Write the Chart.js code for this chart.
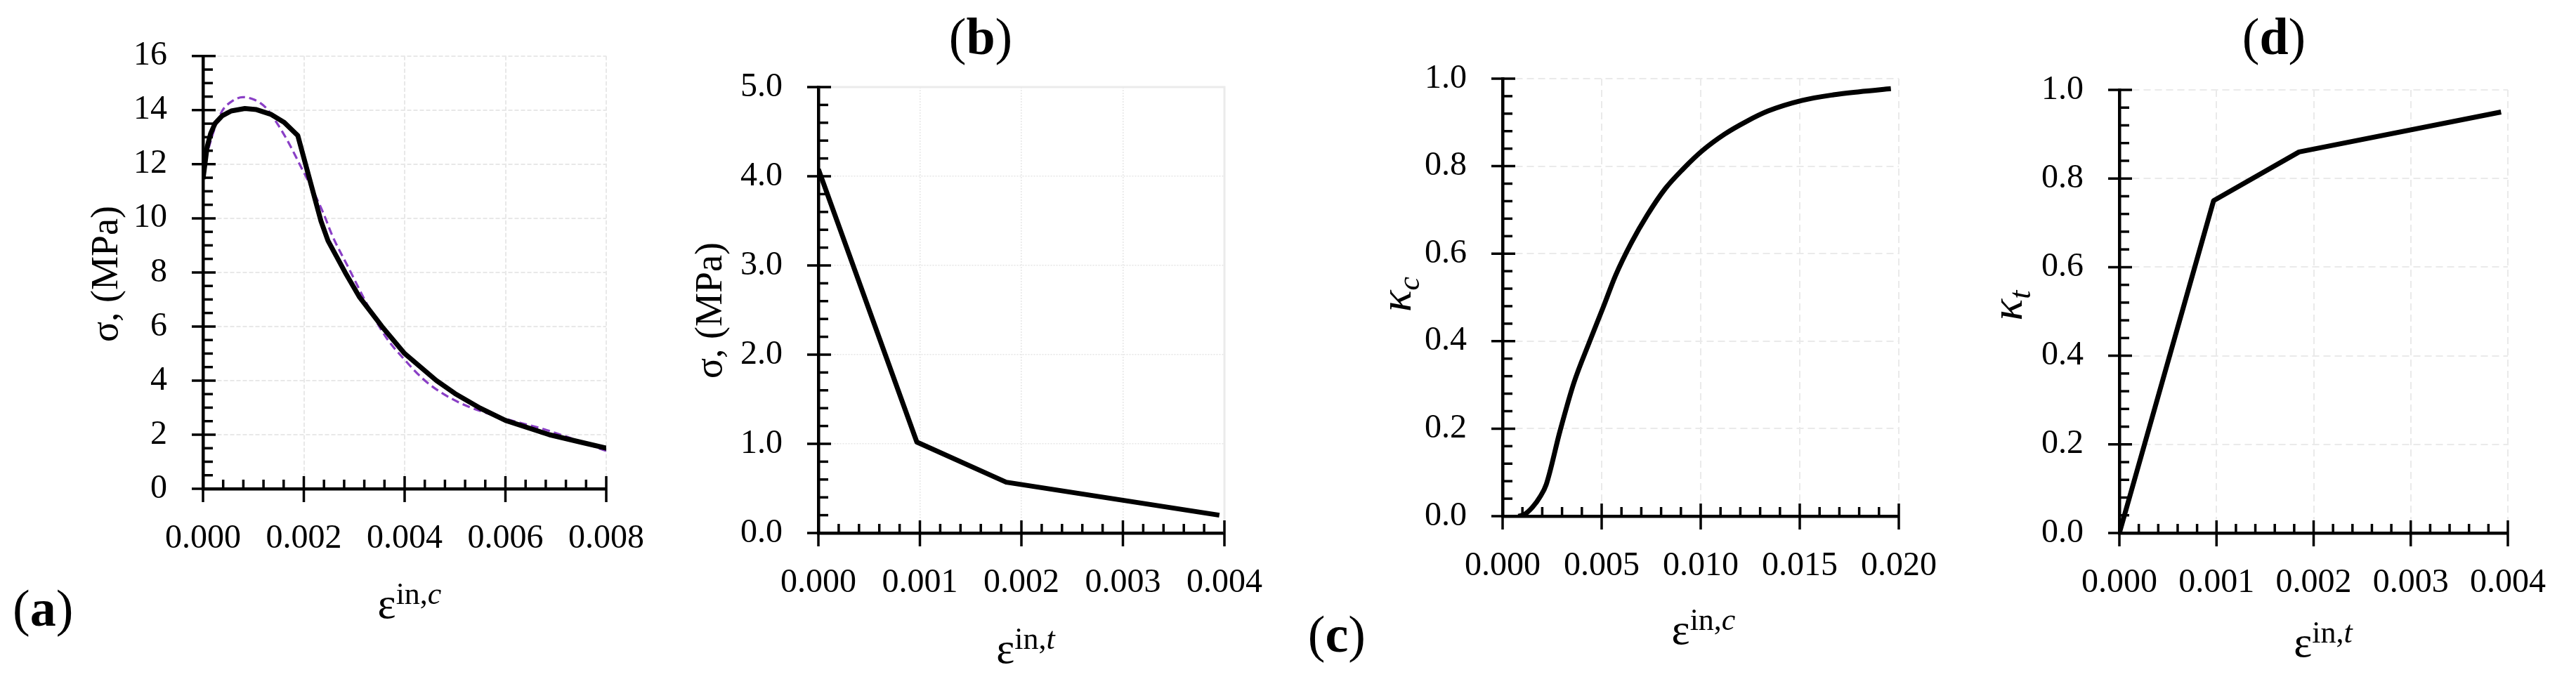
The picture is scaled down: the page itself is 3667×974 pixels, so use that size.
<!DOCTYPE html>
<html>
<head>
<meta charset="utf-8">
<script src="https://cdn.jsdelivr.net/npm/chart.js"></script>
<style>
html,body{margin:0;padding:0;background:#fff;width:3667px;height:974px;overflow:hidden}
.p{position:absolute;top:0;height:974px}
</style>
</head>
<body>
<div class="p" id="pa" style="left:0;width:960px"><canvas id="ca"></canvas></div>
<div class="p" id="pb" style="left:960px;width:880px"><canvas id="cb"></canvas></div>
<div class="p" id="pc" style="left:1840px;width:960px"><canvas id="cc"></canvas></div>
<div class="p" id="pd" style="left:2800px;width:867px"><canvas id="cd"></canvas></div>
<script>
// ---------------- DATA ----------------
// (a) compressive stress vs inelastic strain
const aStrain = [0, 0.00008, 0.00015, 0.00024, 0.00038, 0.00056, 0.00083, 0.00106, 0.00134, 0.00161, 0.00188, 0.00234, 0.00248, 0.00282, 0.00310, 0.00355, 0.00400, 0.00463, 0.00500, 0.00550, 0.00600, 0.00687, 0.00750, 0.00801];
const aStress = [11.45, 12.62, 13.13, 13.51, 13.79, 13.97, 14.06, 14.02, 13.85, 13.55, 13.06, 9.90, 9.17, 8.00, 7.10, 6.00, 5.00, 4.00, 3.52, 2.98, 2.53, 2.00, 1.72, 1.50];
const aFitStrain = [0, 0.00008, 0.00022, 0.00038, 0.00056, 0.00079, 0.00101, 0.00124, 0.00147, 0.00170, 0.00193, 0.00216, 0.00239, 0.00257, 0.00289, 0.00321, 0.00362, 0.00399, 0.00444, 0.00508, 0.00591, 0.00682, 0.00800];
const aFitStress = [11.74, 12.37, 13.26, 13.97, 14.31, 14.48, 14.39, 14.10, 13.51, 12.79, 11.95, 11.11, 10.18, 9.34, 8.16, 6.98, 5.63, 4.79, 3.94, 3.19, 2.64, 2.17, 1.40];
const aXTickLabels = ['0.000', '0.002', '0.004', '0.006', '0.008'];
const aYTickLabels = ['0', '2', '4', '6', '8', '10', '12', '14', '16'];

// (b) tensile stress vs inelastic strain
const bStrain = [0, 0.00097, 0.00185, 0.00395];
const bStress = [4.08, 1.02, 0.57, 0.20];
const bXTickLabels = ['0.000', '0.001', '0.002', '0.003', '0.004'];
const bYTickLabels = ['0.0', '1.0', '2.0', '3.0', '4.0', '5.0'];

// (c) compressive damage vs inelastic strain
const cStrain = [0.0008, 0.0011, 0.0015, 0.0019, 0.0022, 0.0029, 0.0036, 0.0044, 0.0051, 0.0057, 0.0065, 0.0073, 0.0082, 0.0091, 0.0101, 0.0112, 0.0123, 0.0134, 0.0151, 0.0167, 0.0180, 0.0196];
const cDamage = [0.0, 0.004, 0.020, 0.045, 0.072, 0.195, 0.305, 0.400, 0.480, 0.550, 0.625, 0.688, 0.748, 0.793, 0.836, 0.873, 0.902, 0.926, 0.950, 0.963, 0.970, 0.977];
const cXTickLabels = ['0.000', '0.005', '0.010', '0.015', '0.020'];
const cYTickLabels = ['0.0', '0.2', '0.4', '0.6', '0.8', '1.0'];

// (d) tensile damage vs inelastic strain
const dStrain = [0, 0.00097, 0.00185, 0.00393];
const dDamage = [0, 0.75, 0.86, 0.95];
const dXTickLabels = ['0.000', '0.001', '0.002', '0.003', '0.004'];
const dYTickLabels = ['0.0', '0.2', '0.4', '0.6', '0.8', '1.0'];

// ---------------- RENDERING ----------------
const FONT = '"Liberation Serif", "Times New Roman", serif';
const CH = 974;

function pts(xs, ys) { return xs.map((x, i) => ({x: x, y: ys[i]})); }

function drawRuns(ctx, runs, x, y, align) {
  let total = 0;
  runs.forEach(r => { ctx.font = r.font; r.w = ctx.measureText(r.t).width; total += r.w; });
  let cx = align === 'center' ? x - total / 2 : (align === 'right' ? x - total : x);
  ctx.textAlign = 'left';
  ctx.textBaseline = 'alphabetic';
  runs.forEach(r => { ctx.font = r.font; ctx.fillText(r.t, cx, y + (r.dy || 0)); cx += r.w; });
}

const deco = {
  id: 'deco',
  beforeDatasetsDraw(chart) {
    const p = chart.options.plugins.deco;
    const ca = chart.chartArea, ctx = chart.ctx;
    if (p.frame) {
      ctx.save();
      ctx.strokeStyle = '#ebebeb';
      ctx.lineWidth = 3;
      ctx.beginPath();
      ctx.moveTo(ca.left, ca.top); ctx.lineTo(ca.right, ca.top); ctx.lineTo(ca.right, ca.bottom);
      ctx.stroke();
      ctx.restore();
    }
  },
  afterDatasetsDraw(chart) {
    const p = chart.options.plugins.deco;
    const ctx = chart.ctx, xs = chart.scales.x, ys = chart.scales.y, ca = chart.chartArea;
    ctx.save();
    ctx.strokeStyle = '#000';
    ctx.lineWidth = 3.5;
    const x0 = ca.left, y0 = ca.bottom;
    const nY = Math.round((ys.max - ys.min) / p.yMinor);
    for (let i = 0; i <= nY; i++) {
      const py = ys.getPixelForValue(ys.min + i * p.yMinor);
      const major = i % p.yPer === 0;
      ctx.beginPath();
      ctx.moveTo(major ? x0 - 16 : x0, py);
      ctx.lineTo(major ? x0 + 18 : x0 + 14, py);
      ctx.stroke();
    }
    const nX = Math.round((xs.max - xs.min) / p.xMinor);
    for (let i = 0; i <= nX; i++) {
      const px = xs.getPixelForValue(xs.min + i * p.xMinor);
      const major = i % p.xPer === 0;
      ctx.beginPath();
      ctx.moveTo(px, major ? y0 + 19 : y0);
      ctx.lineTo(px, major ? y0 - 18 : y0 - 13);
      ctx.stroke();
    }
    ctx.restore();
  },
  afterDraw(chart) {
    const p = chart.options.plugins.deco;
    const ctx = chart.ctx, off = p.offset;
    ctx.save();
    ctx.fillStyle = '#000';
    ctx.save();
    ctx.translate(p.yTitle.x - off, p.yTitle.y);
    ctx.rotate(-Math.PI / 2);
    drawRuns(ctx, p.yTitle.runs, 0, p.yTitle.base, 'center');
    ctx.restore();
    drawRuns(ctx, p.xTitle.runs, p.xTitle.x - off, p.xTitle.y, 'center');
    drawRuns(ctx, p.label.runs, p.label.x - off, p.label.y, p.label.align);
    ctx.restore();
  }
};

function makePanel(canvasId, spec) {
  const padL = 10, padB = 10;
  const yW = spec.area.l - spec.left - padL;
  const xH = CH - spec.area.b - padB;
  return new Chart(document.getElementById(canvasId), {
    type: 'line',
    data: {datasets: spec.datasets},
    plugins: [deco],
    options: {
      responsive: true,
      maintainAspectRatio: false,
      animation: false,
      events: [],
      layout: {padding: {left: padL, bottom: padB, top: spec.area.t, right: spec.left + spec.width - spec.area.r}},
      plugins: {
        legend: {display: false},
        tooltip: {enabled: false},
        deco: spec.deco
      },
      scales: {
        x: {
          type: 'linear', min: spec.x.min, max: spec.x.max,
          ticks: {stepSize: spec.x.step, autoSkip: false, maxRotation: 0, minRotation: 0, padding: 43,
            color: '#000', font: {family: FONT, size: 48},
            callback: (v, i) => spec.x.labels[i] !== undefined ? spec.x.labels[i] : v.toFixed(3)},
          grid: {color: spec.gridColor, lineWidth: spec.gridWidth, drawTicks: false},
          border: {display: true, color: '#000', width: 4.5, dash: spec.gridDash},
          afterFit: s => { s.height = xH; }
        },
        y: {
          type: 'linear', min: spec.y.min, max: spec.y.max,
          ticks: {stepSize: spec.y.step, autoSkip: false, padding: 51,
            color: '#000', font: {family: FONT, size: 48},
            callback: (v, i) => spec.y.labels[i] !== undefined ? spec.y.labels[i] : String(v)},
          grid: {color: spec.gridColor, lineWidth: spec.gridWidth, drawTicks: false},
          border: {display: true, color: '#000', width: 4.5, dash: spec.gridDash},
          afterFit: s => { s.width = yW; }
        }
      }
    }
  });
}

function lineDs(data, color, width, dash, smooth) {
  return {data: data, borderColor: color, borderWidth: width, borderDash: dash || [],
    pointRadius: 0, fill: false, tension: smooth ? 0.4 : 0,
    cubicInterpolationMode: smooth ? 'monotone' : 'default', borderJoinStyle: 'round', borderCapStyle: 'butt'};
}

const epsRuns = (sup) => [
  {t: 'ε', font: `62px ${FONT}`},
  {t: 'in,', font: `44px ${FONT}`, dy: -20},
  {t: sup, font: `italic 44px ${FONT}`, dy: -20}
];
const sigmaRuns = () => [
  {t: 'σ', font: `54px ${FONT}`},
  {t: ', (MPa)', font: `54px ${FONT}`}
];
const kappaRuns = (sub) => [
  {t: 'κ', font: `italic 64px ${FONT}`},
  {t: sub, font: `italic 44px ${FONT}`, dy: 12}
];
const labelRuns = (ch) => [
  {t: '(', font: `74px ${FONT}`},
  {t: ch, font: `bold 74px ${FONT}`},
  {t: ')', font: `74px ${FONT}`}
];

makePanel('ca', {
  left: 0, width: 960, area: {l: 289, r: 873, t: 65, b: 696},
  x: {min: 0, max: 0.008, step: 0.002, labels: aXTickLabels},
  y: {min: 0, max: 16, step: 2, labels: aYTickLabels},
  gridColor: '#e8e8e8', gridWidth: 2, gridDash: [6, 3],
  datasets: [
    lineDs(pts(aStrain, aStress), '#000000', 7, null, false),
    lineDs(pts(aFitStrain, aFitStress), '#8a3fc6', 3.2, [11, 6], true)
  ],
  deco: {offset: 0, xMinor: 0.0004, xPer: 5, yMinor: 0.5, yPer: 4,
    yTitle: {x: 148, y: 390, base: 19, runs: sigmaRuns()},
    xTitle: {x: 583, y: 880, runs: epsRuns('c')},
    label: {x: 18, y: 891, align: 'left', runs: labelRuns('a')}}
});

makePanel('cb', {
  left: 960, width: 880, area: {l: 1165, r: 1752, t: 124, b: 759},
  x: {min: 0, max: 0.004, step: 0.001, labels: bXTickLabels},
  y: {min: 0, max: 5, step: 1, labels: bYTickLabels},
  gridColor: '#e6e6e6', gridWidth: 1.5, gridDash: [2, 2],
  datasets: [lineDs(pts(bStrain, bStress), '#000000', 7, null, false)],
  deco: {offset: 960, frame: true, xMinor: 0.0002, xPer: 5, yMinor: 0.2, yPer: 5,
    yTitle: {x: 1008, y: 442, base: 19, runs: sigmaRuns()},
    xTitle: {x: 1460, y: 944, runs: epsRuns('t')},
    label: {x: 1396, y: 77, align: 'center', runs: labelRuns('b')}}
});

makePanel('cc', {
  left: 1840, width: 960, area: {l: 2139, r: 2706, t: 112, b: 735},
  x: {min: 0, max: 0.02, step: 0.005, labels: cXTickLabels},
  y: {min: 0, max: 1, step: 0.2, labels: cYTickLabels},
  gridColor: '#eaeaea', gridWidth: 2, gridDash: [10, 6],
  datasets: [lineDs(pts(cStrain, cDamage), '#000000', 7, null, true)],
  deco: {offset: 1840, xMinor: 0.001, xPer: 5, yMinor: 0.04, yPer: 5,
    yTitle: {x: 1990, y: 419, base: 18, runs: kappaRuns('c')},
    xTitle: {x: 2425, y: 917, runs: epsRuns('c')},
    label: {x: 1944, y: 928, align: 'right', runs: labelRuns('c')}}
});

makePanel('cd', {
  left: 2800, width: 867, area: {l: 3017, r: 3589, t: 128, b: 759},
  x: {min: 0, max: 0.004, step: 0.001, labels: dXTickLabels},
  y: {min: 0, max: 1, step: 0.2, labels: dYTickLabels},
  gridColor: '#eaeaea', gridWidth: 2, gridDash: [10, 6],
  datasets: [lineDs(pts(dStrain, dDamage), '#000000', 7, null, false)],
  deco: {offset: 2800, xMinor: 0.0002, xPer: 5, yMinor: 0.04, yPer: 5,
    yTitle: {x: 2860, y: 435, base: 18, runs: kappaRuns('t')},
    xTitle: {x: 3307, y: 935, runs: epsRuns('t')},
    label: {x: 3237, y: 77, align: 'center', runs: labelRuns('d')}}
});
</script>
</body>
</html>
